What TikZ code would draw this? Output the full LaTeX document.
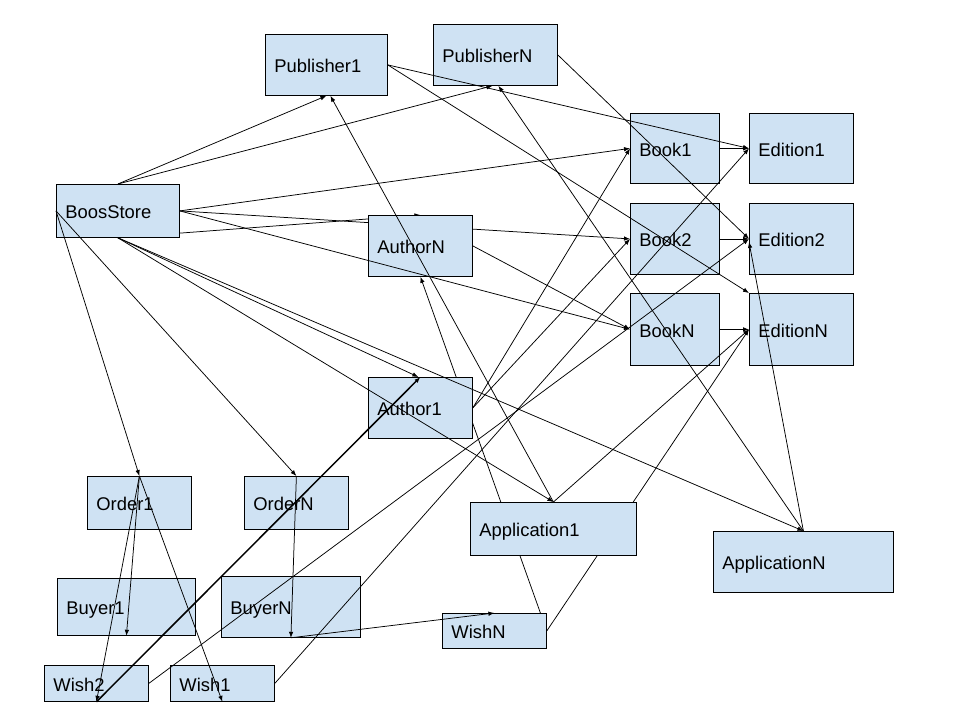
\documentclass[tikz,border=0pt]{standalone}
\usepackage{fontspec}
\setmainfont{Liberation Sans}
\usetikzlibrary{arrows.meta}
\definecolor{boxfill}{RGB}{207,226,243}
\pgfdeclarelayer{behind}
\pgfsetlayers{behind,main}
\begin{document}
\begin{tikzpicture}[x=1pt,y=-1pt,
  box/.style={draw=black, line width=0.8pt, fill=boxfill, anchor=north west,
    inner xsep=9pt, inner ysep=0pt, align=left, text height=15.5pt, text depth=0pt,
    font=\fontsize{18.4}{21}\selectfont},
  conn/.style={draw=black, line width=0.75pt, -{Latex[length=6pt,width=4.5pt]}},
  boldconn/.style={conn, line width=1.5pt}]
\begin{pgfonlayer}{behind}
\fill[white] (0,0) rectangle (960,720);
\end{pgfonlayer}
\useasboundingbox (0,0) rectangle (960,720);
% boxes
\node[box, text width=104pt, minimum height=61pt] (pub1) at (265,34) {Publisher1};
\node[box, text width=106pt, minimum height=61pt] (pubN) at (433,24) {PublisherN};
\node[box, text width=71pt, minimum height=70pt] (book1) at (630,113) {Book1};
\node[box, text width=86pt, minimum height=70pt] (ed1) at (749,113) {Edition1};
\node[box, text width=71pt, minimum height=71pt] (book2) at (630,203) {Book2};
\node[box, text width=86pt, minimum height=71pt] (ed2) at (749,203) {Edition2};
\node[box, text width=71pt, minimum height=72pt] (bookN) at (630,293) {BookN};
\node[box, text width=86pt, minimum height=72pt] (edN) at (749,293) {EditionN};
\node[box, text width=105pt, minimum height=53pt] (bs) at (56,184) {BoosStore};
\node[box, text width=86pt, minimum height=61pt] (authN) at (368,215) {AuthorN};
\node[box, text width=86pt, minimum height=61pt] (auth1) at (368,377) {Author1};
\node[box, text width=86pt, minimum height=53pt] (order1) at (87,476) {Order1};
\node[box, text width=86pt, minimum height=53pt] (orderN) at (244,476) {OrderN};
\node[box, text width=120pt, minimum height=57pt] (buyer1) at (57,578) {Buyer1};
\node[box, text width=121pt, minimum height=61pt] (buyerN) at (221,576) {BuyerN};
\node[box, text width=86pt, minimum height=36pt] (wish2) at (44,665) {Wish2};
\node[box, text width=86pt, minimum height=36pt] (wish1) at (170,665) {Wish1};
\node[box, text width=86pt, minimum height=35pt] (wishN) at (442,613) {WishN};
\node[box, text width=148pt, minimum height=53pt] (app1) at (470,502) {Application1};
\node[box, text width=162pt, minimum height=61pt] (appN) at (713,531) {ApplicationN};
% connectors hidden behind boxes
\begin{pgfonlayer}{behind}
\draw[conn] (bs.east) -- (book2.west);
\draw[conn] (bs.south) -- (authN.north);
\draw[conn] (wishN.east) -- (authN.south);
\draw[conn] (wishN.east) -- (edN.west);
\end{pgfonlayer}
% visible connectors
\draw[conn] (bs.north) -- (pub1.south);
\draw[conn] (bs.north) -- ([xshift=-3pt]pubN.south);
\draw[conn] (bs.east) -- (book1.west);
\draw[conn] (bs.east) -- (bookN.west);
\draw[conn] (bs.west) -- (order1.north);
\draw[conn] (bs.west) -- (orderN.north);
\draw[conn] (bs.south) -- ([xshift=-2pt]auth1.north);
\draw[conn] (bs.south) -- (app1.north);
\draw[conn] (bs.south) -- (appN.north);
\draw[conn] (pub1.east) -- (ed1.west);
\draw[conn] (pub1.east) -- (edN.north west);
\draw[conn] (pubN.east) -- (ed2.west);
\draw[conn] (book1.east) -- (ed1.west);
\draw[conn] (book2.east) -- (ed2.west);
\draw[conn] (bookN.east) -- (edN.west);
\draw[conn] (app1.north) -- ([xshift=4pt]pub1.south);
\draw[conn] (app1.north) -- (edN.west);
\draw[conn] (appN.north) -- ([xshift=3pt]pubN.south);
\draw[conn] (appN.north) -- ([yshift=-3pt]ed2.west);
\draw[conn] (authN.east) -- (bookN.west);
\draw[conn] (auth1.east) -- (book1.west);
\draw[conn] (auth1.east) -- (book2.west);
\draw[conn] (order1.north) -- (buyer1.south);
\draw[conn] (order1.north) -- (wish2.south);
\draw[conn] (order1.north) -- (wish1.south);
\draw[conn] (orderN.north) -- (buyerN.south);
\draw[conn] (buyerN.south) -- (wishN.north);
\draw[boldconn] (wish2.south) -- (auth1.north);
\draw[conn] (wish2.east) -- (ed2.west);
\draw[conn] (wish1.east) -- (ed1.west);
\end{tikzpicture}
\end{document}
